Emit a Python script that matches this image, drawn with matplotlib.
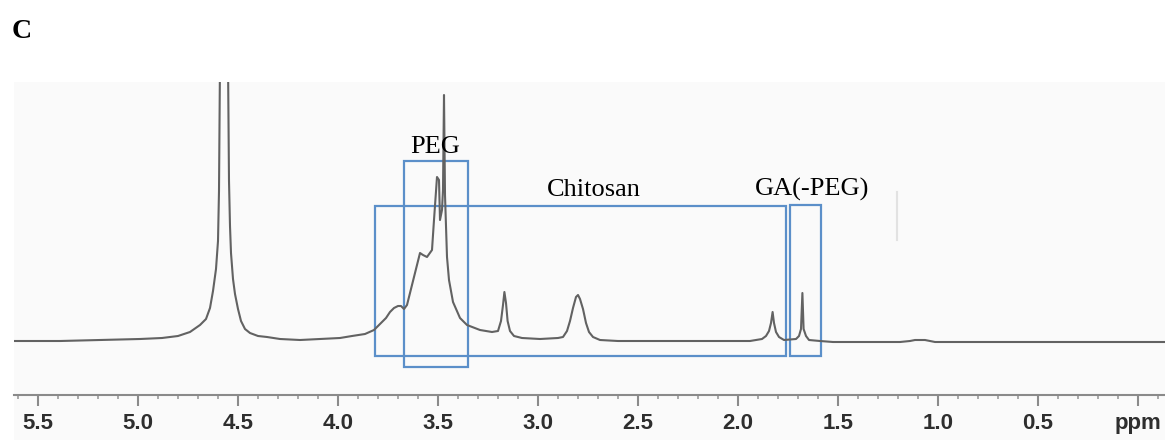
import matplotlib
matplotlib.use("Agg")
from matplotlib import pyplot as plt
from matplotlib.patches import Rectangle
from matplotlib.ticker import MultipleLocator, FixedLocator, FixedFormatter

# 1H NMR trace (ppm, intensity in arbitrary units, baseline = 0)
ppm = [5.62, 5.39, 5.19, 4.99, 4.88, 4.80, 4.74, 4.69, 4.66, 4.64, 4.625, 4.61,
       4.60, 4.595, 4.59, 4.57, 4.55, 4.545, 4.54, 4.535, 4.525, 4.515, 4.50, 4.485,
       4.465, 4.44, 4.40, 4.355, 4.29, 4.19, 3.99, 3.93, 3.865, 3.82, 3.79, 3.76,
       3.74, 3.72, 3.70, 3.685, 3.67, 3.655, 3.64, 3.615, 3.59, 3.575, 3.555, 3.53,
       3.52, 3.505, 3.495, 3.49, 3.48, 3.475, 3.47, 3.465, 3.455, 3.445, 3.425, 3.39,
       3.355, 3.29, 3.23, 3.20, 3.185, 3.175, 3.168, 3.16, 3.152, 3.14, 3.12, 3.08,
       2.99, 2.90, 2.875, 2.855, 2.84, 2.825, 2.81, 2.80, 2.79, 2.775, 2.76, 2.745,
       2.725, 2.69, 2.60, 2.49, 2.19, 1.94, 1.88, 1.86, 1.845, 1.835, 1.827, 1.82,
       1.81, 1.795, 1.77, 1.71, 1.695, 1.685, 1.678, 1.672, 1.66, 1.645, 1.59, 1.525,
       1.19, 1.14, 1.115, 1.065, 1.04, 1.015, -0.135]
intensity = [0, 0, 1, 2, 3, 5, 9, 16, 22, 33, 50, 72,
             100, 150, 281, 381, 281, 160, 115, 88, 62, 47, 32, 20,
             12, 8, 5, 4, 2, 1, 3, 5, 7, 11, 17, 23,
             29, 33, 35, 35, 32, 36, 48, 68, 88, 86, 84, 91,
             121, 164, 161, 121, 131, 151, 246, 146, 84, 61, 39, 23,
             16, 11, 9, 10, 20, 36, 49, 38, 20, 10, 5, 3,
             2, 3, 4, 10, 20, 33, 44, 46, 42, 32, 18, 9,
             4, 1, 0, 0, 0, 0, 2, 5, 10, 18, 29, 18,
             9, 4, 1, 2, 5, 12, 48, 12, 5, 1, 0, -1,
             -1, 0, 1, 1, 0, -1, -1]

tick_ppm = [5.5, 5.0, 4.5, 4.0, 3.5, 3.0, 2.5, 2.0, 1.5, 1.0, 0.5, 0.0]
tick_labels = ["5.5", "5.0", "4.5", "4.0", "3.5", "3.0", "2.5", "2.0", "1.5", "1.0", "0.5", "ppm"]

region_names = ["PEG", "Chitosan", "GA(-PEG)"]
region_ppm = [(3.67, 3.35), (3.815, 1.76), (1.74, 1.585)]

fig = plt.figure(figsize=(11.65, 4.4), dpi=100)
# faint grey tint of the scanned spectrum, behind everything
fig.patches.append(Rectangle((14 / 1165, 0), 1, 1 - 82 / 440, transform=fig.transFigure,
                             fc="#fafafa", ec="none", zorder=-10))

ax = fig.add_axes([14 / 1165, 1 - 395 / 440, 1 - 14 / 1165, (395 - 82) / 440])
ax.patch.set_alpha(0)
ax.plot(ppm, intensity, color="#626262", lw=1.5, solid_joinstyle="round")
ax.set_xlim(5.62, -0.135)
ax.set_ylim(-54, 259)

# scanner smudge near 1.2 ppm
ax.plot([1.205, 1.205], [101, 149], color="#e2e2e2", lw=1.5)

for s in ["top", "left", "right"]:
    ax.spines[s].set_visible(False)
ax.spines["bottom"].set_color("#8a8a8a")
ax.spines["bottom"].set_linewidth(1.5)
ax.set_yticks([])
ax.xaxis.set_major_locator(FixedLocator(tick_ppm))
ax.xaxis.set_major_formatter(FixedFormatter(tick_labels))
ax.xaxis.set_minor_locator(MultipleLocator(0.1))
ax.tick_params(axis="x", which="major", length=8, width=1.5, color="#8a8a8a", pad=5,
               labelsize=16, labelcolor="#2e2e2e")
ax.tick_params(axis="x", which="minor", length=3, width=1.2, color="#9a9a9a")
for lab in ax.get_xticklabels():
    lab.set_fontfamily("Liberation Sans")
    lab.set_fontweight("bold")

# annotated regions
box_c = "#5b8fc9"
box_y = [(-26, 180), (-15, 135), (-15, 136)]
for (p0, p1), (y0, y1) in zip(region_ppm, box_y):
    ax.add_patch(Rectangle((p0, y0), p1 - p0, y1 - y0, fill=False, ec=box_c, lw=1.6))

label_pos = [(3.515, 188), (2.72, 145), (1.63, 145)]
for name, (px, py) in zip(region_names, label_pos):
    ax.text(px, py, name, ha="center", va="baseline", fontsize=19,
            fontfamily="Liberation Serif", color="black")

fig.text(12 / 1165, 1 - 38 / 440, "C", fontsize=20, fontweight="bold",
         fontfamily="Liberation Serif", va="baseline", ha="left")

fig.savefig("out.png", dpi=100, facecolor="white")
